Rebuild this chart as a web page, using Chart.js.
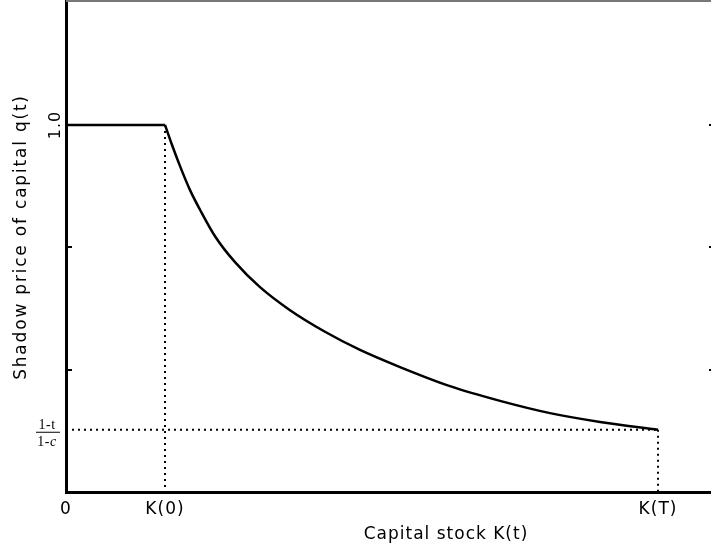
<!DOCTYPE html>
<html>
<head>
<meta charset="utf-8">
<script src="https://cdn.jsdelivr.net/npm/chart.js@4"></script>
<style>
  html, body { margin: 0; padding: 0; background: #fff; }
  #wrap { width: 711px; height: 546px; position: relative; }
</style>
</head>
<body>
<div id="wrap"><canvas id="chart"></canvas></div>
<script>
// capital stock positions
const K0 = 1.672;
const KT = 10;
const xMin = 0;
const xMax = 10.895;
const yMin = 0.251;
const yMax = 1.255;
const floorLevel = 0.378;

const xTickValues = [0, K0, KT];
const xTickLabels = ['0', 'K(0)', 'K(T)'];
const yTickValues = [0.5, 0.75, 1.0];

// shadow price path after K(0)
const curveX = [1.672, 1.791, 1.926, 2.095, 2.264, 2.517, 2.855, 3.277, 3.784, 4.375, 4.966, 5.642, 6.486, 7.331, 8.176, 9.020, 10];
const curveY = [1.000, 0.959, 0.916, 0.867, 0.827, 0.773, 0.720, 0.669, 0.622, 0.578, 0.541, 0.506, 0.467, 0.437, 0.412, 0.394, 0.378];

const textFont = '17px "DejaVu Sans"';

const extras = {
    id: 'extras',
    beforeDraw(chart) {
        chart.ctx.letterSpacing = '1px';
    },
    afterDraw(chart) {
        const ctx = chart.ctx;
        const y = chart.scales.y;
        const area = chart.chartArea;
        ctx.save();

        // top frame line
        ctx.strokeStyle = '#777';
        ctx.lineWidth = 2;
        ctx.beginPath();
        ctx.moveTo(area.left, 1);
        ctx.lineTo(area.right, 1);
        ctx.stroke();

        // inward ticks on left and right edges
        ctx.strokeStyle = '#000';
        ctx.lineWidth = 2;
        yTickValues.forEach(v => {
            const py = Math.round(y.getPixelForValue(v));
            ctx.beginPath();
            ctx.moveTo(area.left, py);
            ctx.lineTo(area.left + 6, py);
            ctx.moveTo(area.right, py);
            ctx.lineTo(area.right - 2, py);
            ctx.stroke();
        });

        ctx.fillStyle = '#000';

        // "1.0" rotated
        ctx.save();
        ctx.translate(60, y.getPixelForValue(1.0));
        ctx.rotate(-Math.PI / 2);
        ctx.font = '16px "DejaVu Sans"';
        ctx.textAlign = 'center';
        ctx.textBaseline = 'alphabetic';
        ctx.fillText('1.0', 0, 0);
        ctx.restore();

        // fraction label (1-t)/(1-c)
        const fy = y.getPixelForValue(floorLevel);
        ctx.letterSpacing = '0.5px';
        ctx.textAlign = 'center';
        ctx.textBaseline = 'alphabetic';
        ctx.font = '14px "Liberation Serif"';
        ctx.fillText('1-t', 47, fy - 1);
        const w1 = ctx.measureText('1-').width;
        ctx.font = 'italic 14px "Liberation Serif"';
        const w2 = ctx.measureText('c').width;
        ctx.textAlign = 'left';
        ctx.font = '14px "Liberation Serif"';
        ctx.fillText('1-', 47 - (w1 + w2) / 2, fy + 16);
        ctx.font = 'italic 14px "Liberation Serif"';
        ctx.fillText('c', 47 - (w1 + w2) / 2 + w1, fy + 16);
        ctx.lineWidth = 1;
        ctx.beginPath();
        ctx.moveTo(36, fy + 2.5);
        ctx.lineTo(60, fy + 2.5);
        ctx.stroke();

        // axis titles
        ctx.letterSpacing = '1px';
        ctx.font = textFont;
        ctx.textAlign = 'center';
        ctx.fillText('Capital stock K(t)', 446, 539);

        ctx.save();
        ctx.letterSpacing = '1.8px';
        ctx.translate(26, 237);
        ctx.rotate(-Math.PI / 2);
        ctx.fillText('Shadow price of capital q(t)', 0, 0);
        ctx.restore();

        ctx.restore();
    }
};

const pts = (xs, ys) => xs.map((v, i) => ({ x: v, y: ys[i] }));

const solid = { borderColor: '#000', borderWidth: 2.5, pointRadius: 0, fill: false };
const dotted = { borderColor: '#000', borderWidth: 2, pointRadius: 0, fill: false, borderDash: [2, 4] };

new Chart(document.getElementById('chart').getContext('2d'), {
    type: 'line',
    data: {
        datasets: [
            Object.assign({ data: pts([0, K0], [1.0, 1.0]) }, solid),
            Object.assign({ data: pts(curveX, curveY), cubicInterpolationMode: 'monotone' }, solid),
            Object.assign({ data: pts([K0, K0], [1.0, yMin]) }, dotted),
            Object.assign({ data: pts([0, KT], [floorLevel, floorLevel]) }, dotted),
            Object.assign({ data: pts([KT, KT], [floorLevel, yMin]) }, dotted)
        ]
    },
    options: {
        responsive: true,
        maintainAspectRatio: false,
        animation: false,
        layout: { padding: 0 },
        plugins: { legend: { display: false }, tooltip: { enabled: false } },
        scales: {
            x: {
                type: 'linear',
                min: xMin,
                max: xMax,
                afterFit: s => { s.height = 54; },
                afterBuildTicks: s => { s.ticks = xTickValues.map(v => ({ value: v })); },
                ticks: {
                    autoSkip: false,
                    maxRotation: 0,
                    padding: 7,
                    color: '#000',
                    font: { family: 'DejaVu Sans', size: 17 },
                    callback: (v, i) => xTickLabels[i]
                },
                grid: { display: false, drawTicks: false },
                border: { display: true, color: '#000', width: 3 }
            },
            y: {
                type: 'linear',
                min: yMin,
                max: yMax,
                afterFit: s => { s.width = 66; },
                ticks: { display: false },
                grid: { display: false, drawTicks: false },
                border: { display: true, color: '#000', width: 3 }
            }
        }
    },
    plugins: [extras]
});
</script>
</body>
</html>
